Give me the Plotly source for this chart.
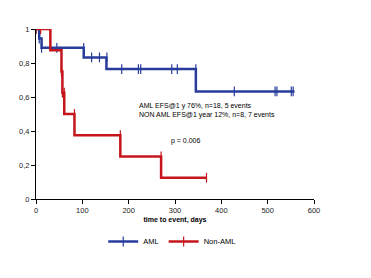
import plotly.graph_objects as go

# AML Kaplan-Meier steps (days, survival)
aml_t = [0, 7, 12, 103, 152, 345, 558]
aml_s = [1.0, 0.944, 0.889, 0.833, 0.764, 0.633, 0.633]
aml_cens_t = [0, 7, 12, 45, 103, 120, 137, 153, 185, 221, 226, 293, 305, 345, 428, 516, 520, 551, 555]
aml_cens_s = [1.0, 0.944, 0.889, 0.889, 0.889, 0.833, 0.833, 0.833, 0.764, 0.764, 0.764, 0.764, 0.764, 0.764, 0.633, 0.633, 0.633, 0.633, 0.633]

# Non-AML steps
non_t = [0, 31, 55, 57, 61, 83, 182, 270, 368]
non_s = [1.0, 0.875, 0.75, 0.625, 0.5, 0.375, 0.25, 0.125, 0.125]
non_cens_t = [0, 10, 31, 55, 57, 61, 83, 182, 270, 368]
non_cens_s = [1.0, 1.0, 1.0, 0.75, 0.625, 0.625, 0.5, 0.375, 0.25, 0.125]

x_ticks = [0, 100, 200, 300, 400, 500, 600]
y_ticks = [0, 0.2, 0.4, 0.6, 0.8, 1]
y_ticktext = ["0", "0,2", "0,4", "0,6", "0,8", "1"]

BLUE = "#283c9c"
RED = "#c4161c"
FONT = "Liberation Sans"

fig = go.Figure()
for name, t, s, ct, cs, col in [
    ("AML", aml_t, aml_s, aml_cens_t, aml_cens_s, BLUE),
    ("Non-AML", non_t, non_s, non_cens_t, non_cens_s, RED),
]:
    fig.add_trace(go.Scatter(x=t, y=s, mode="lines", line=dict(color=col, width=2.5, shape="hv"),
                             name=name, showlegend=False))
    fig.add_trace(go.Scatter(x=ct, y=cs, mode="markers", name=name, showlegend=False,
                             marker=dict(symbol="line-ns", size=7, line=dict(color=col, width=1.2))))
for name, col in [("AML", BLUE), ("Non-AML", RED)]:
    fig.add_trace(go.Scatter(x=[None], y=[None], mode="lines+markers", name=name,
                             line=dict(color=col, width=2.5),
                             marker=dict(symbol="line-ns", size=7, line=dict(color=col, width=1.2))))

fig.add_annotation(x=0.363, y=0.52, xref="paper", yref="paper", xanchor="left", yanchor="middle",
                   text="AML EFS@1 y 76%, n=18, 5 events<br>NON AML EFS@1 year 12%, n=8, 7 events",
                   showarrow=False, align="left", font=dict(family=FONT, size=7, color="black"))
fig.add_annotation(x=0.48, y=0.34, xref="paper", yref="paper", xanchor="left", yanchor="middle",
                   text="p = 0.006", showarrow=False, font=dict(family=FONT, size=7, color="black"))

fig.update_layout(
    width=371, height=278,
    margin=dict(l=35.5, r=56.7, t=29.3, b=78.7, autoexpand=False),
    paper_bgcolor="white", plot_bgcolor="white",
    font=dict(family=FONT, size=8, color="#222"),
    showlegend=True,
    legend=dict(orientation="h", x=0.49, xanchor="center", y=-0.25, yanchor="middle",
                font=dict(family=FONT, size=7.5, color="black"), itemwidth=30),
    xaxis=dict(range=[0, 600], tickvals=x_ticks, showgrid=False, zeroline=False, automargin=False,
               showline=True, linecolor="black", linewidth=1, ticks="outside", ticklen=4,
               tickcolor="black", tickfont=dict(size=7.5),
               title=dict(text="<b>time to event, days</b>", font=dict(size=7, color="black"), standoff=3)),
    yaxis=dict(range=[0, 1], tickvals=y_ticks, ticktext=y_ticktext, showgrid=False, zeroline=False,
               automargin=False,
               showline=True, linecolor="black", linewidth=1, ticks="outside", ticklen=4,
               tickcolor="black", tickfont=dict(size=7.5)),
)
fig.write_html("out.html", config={"displayModeBar": False},
               post_script="document.body.style.margin='0';")
